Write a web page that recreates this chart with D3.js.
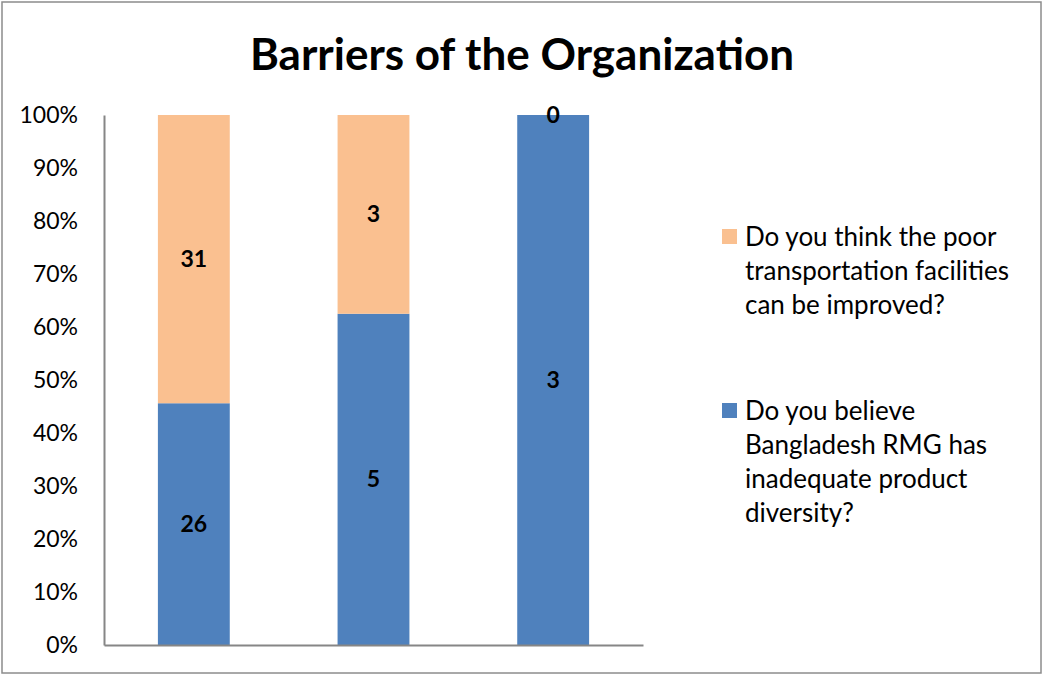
<!DOCTYPE html>
<html>
<head>
<meta charset="utf-8">
<script src="https://cdn.jsdelivr.net/npm/d3@7"></script>
<style>
  html, body { margin: 0; padding: 0; background: #fff; }
  svg { display: block; font-family: Lato, "Open Sans", sans-serif; }
</style>
</head>
<body>
<svg id="chart" width="1044" height="675"></svg>
<script>
// Survey responses per group
const categories = ["A", "B", "C"];
const diversityValues = [26, 5, 3];      // Do you believe Bangladesh RMG has inadequate product diversity?
const transportValues = [31, 3, 0];      // Do you think the poor transportation facilities can be improved?
const tickLabels = ["0%", "10%", "20%", "30%", "40%", "50%", "60%", "70%", "80%", "90%", "100%"];
const seriesNames = [
  ["Do you think the poor", "transportation facilities", "can be improved?"],
  ["Do you believe", "Bangladesh RMG has", "inadequate product", "diversity?"]
];

const colors = { diversity: "#4F81BD", transport: "#FAC090" };
const svg = d3.select("#chart");

// Outer frame
svg.append("rect")
  .attr("x", 2).attr("y", 2).attr("width", 1039).attr("height", 671)
  .attr("fill", "#fff").attr("stroke", "#8c8c8c").attr("stroke-width", 1.5);

// Title
svg.append("text")
  .attr("x", 522).attr("y", 70)
  .attr("text-anchor", "middle")
  .attr("font-weight", "bold")
  .attr("font-size", 44)
  .attr("fill", "#000")
  .text("Barriers of the Organization");

const plot = { left: 104, right: 643, top: 115, bottom: 645 };

const x = d3.scaleBand()
  .domain(categories)
  .range([plot.left, plot.right])
  .paddingInner(0.6)
  .paddingOuter(0.3);

const y = d3.scaleLinear().domain([0, 1]).range([plot.bottom, plot.top]);

const rows = categories.map((c, i) => ({
  cat: c,
  diversity: diversityValues[i],
  transport: transportValues[i]
}));

const stack = d3.stack()
  .keys(["diversity", "transport"])
  .offset(d3.stackOffsetExpand);
const series = stack(rows);

// Bars
const groups = svg.append("g").selectAll("g")
  .data(series)
  .join("g")
  .attr("fill", d => colors[d.key]);

groups.selectAll("rect")
  .data(d => d)
  .join("rect")
  .attr("x", d => x(d.data.cat))
  .attr("width", x.bandwidth())
  .attr("y", d => y(d[1]))
  .attr("height", d => Math.max(0, y(d[0]) - y(d[1])));

// Y axis
const yAxis = d3.axisLeft(y)
  .tickValues(d3.range(0, 1.0001, 0.1))
  .tickFormat((d, i) => tickLabels[i])
  .tickSize(0)
  .tickPadding(26);

const ya = svg.append("g")
  .attr("transform", `translate(${plot.left},0)`)
  .call(yAxis);
ya.select(".domain").attr("stroke", "#868686").attr("stroke-width", 2);
ya.selectAll("text")
  .attr("font-family", "Lato, 'Open Sans', sans-serif")
  .attr("font-size", 23)
  .attr("fill", "#000");

// X axis line (no labels)
const xa = svg.append("g")
  .attr("transform", `translate(0,${plot.bottom})`)
  .call(d3.axisBottom(x).tickSize(0).tickFormat(""));
xa.select(".domain").attr("stroke", "#868686").attr("stroke-width", 2);

// Value labels
groups.each(function(s) {
  d3.select(this).selectAll("text.val")
    .data(s)
    .join("text")
    .attr("class", "val")
    .attr("x", d => x(d.data.cat) + x.bandwidth() / 2)
    .attr("y", d => (y(d[0]) + y(d[1])) / 2)
    .attr("dy", "0.35em")
    .attr("text-anchor", "middle")
    .attr("font-weight", "bold")
    .attr("font-size", 23)
    .attr("fill", "#000")
    .text(d => d.data[s.key]);
});

// Legend
const legendItems = [
  { color: colors.transport, lines: seriesNames[0], y: 246 },
  { color: colors.diversity, lines: seriesNames[1], y: 420 }
];
const lg = svg.append("g");
legendItems.forEach(item => {
  lg.append("rect")
    .attr("x", 722).attr("y", item.y - 17)
    .attr("width", 15).attr("height", 15)
    .attr("fill", item.color);
  const t = lg.append("text")
    .attr("x", 745).attr("y", item.y)
    .attr("font-size", 26)
    .attr("fill", "#000");
  item.lines.forEach((ln, i) => {
    t.append("tspan").attr("x", 745).attr("dy", i === 0 ? 0 : 34).text(ln);
  });
});
</script>
</body>
</html>
